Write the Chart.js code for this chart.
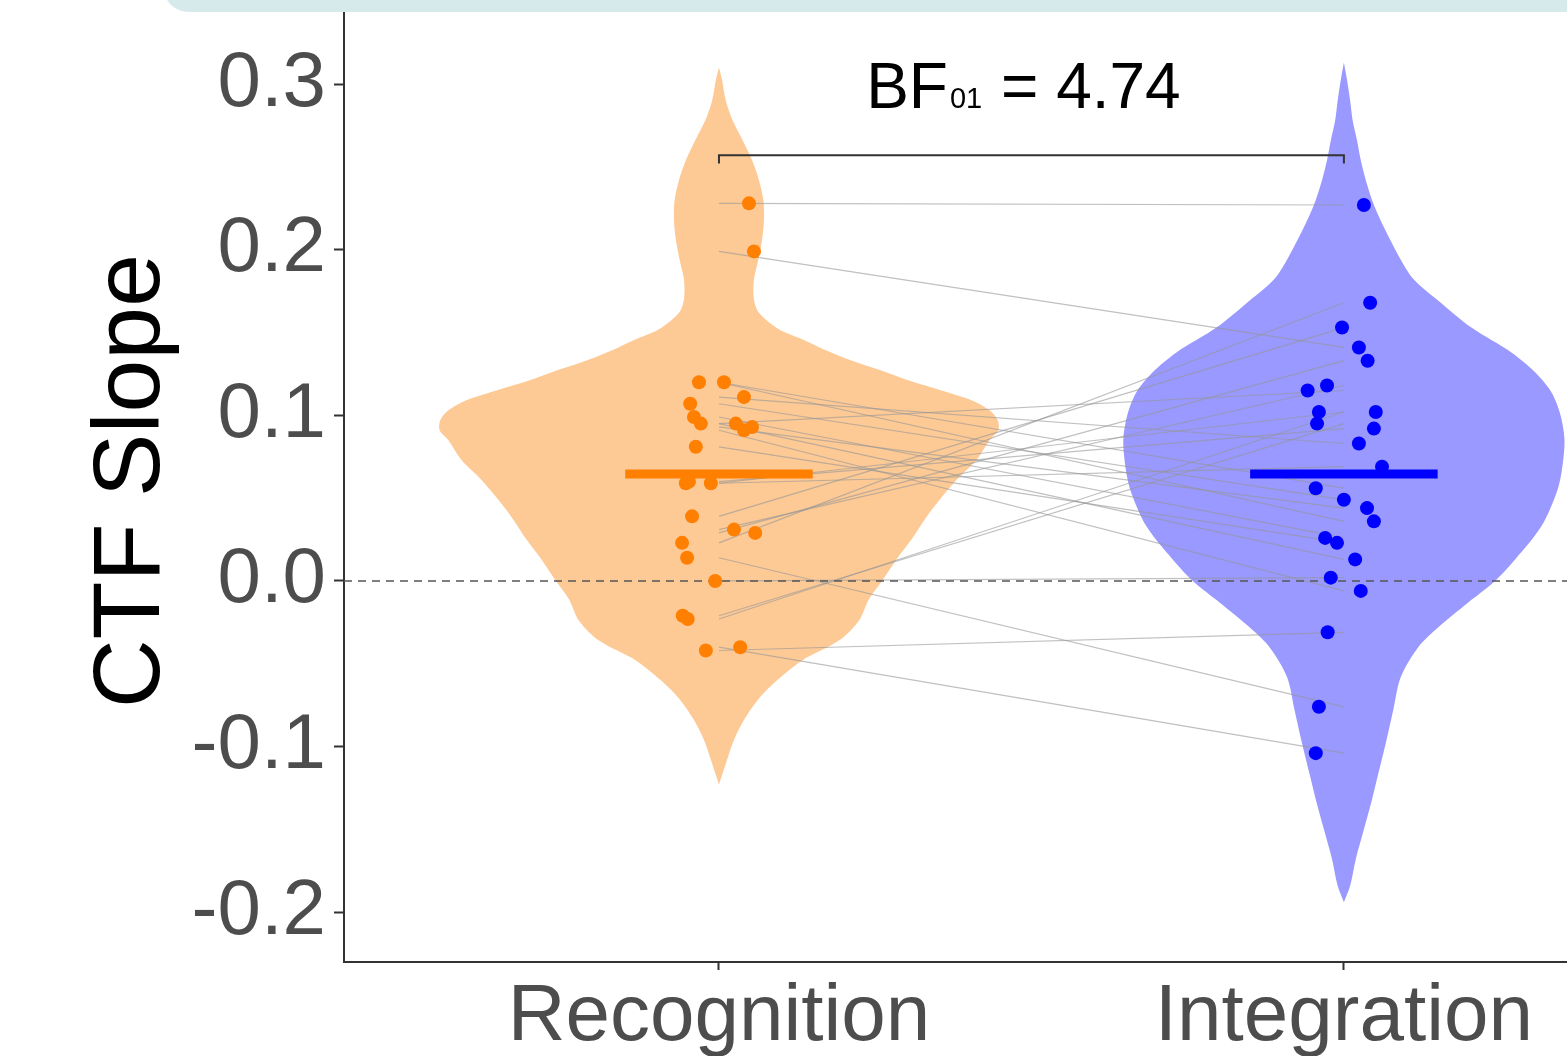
<!DOCTYPE html>
<html>
<head>
<meta charset="utf-8">
<script src="https://cdn.jsdelivr.net/npm/chart.js@4/dist/chart.umd.min.js"></script>
<style>
  html, body { margin: 0; padding: 0; background: #fff; }
  #wrap { width: 1567px; height: 1056px; overflow: hidden; }
</style>
</head>
<body>
<div id="wrap"><canvas id="violin-chart" width="1567" height="1056"></canvas></div>
<script>
const categories = ['Recognition', 'Integration'];
const yTicks = [-0.2, -0.1, 0.0, 0.1, 0.2, 0.3];
const xRange = [0.4, 2.357];
const yRange = [-0.2301, 0.3508];

// paired CTF slopes (same participant at the same index)
const recognition = [0.228, 0.199, 0.120, 0.120, 0.111, 0.107, 0.099, 0.095, 0.095, 0.093, 0.091, 0.081, 0.060,
  0.059, 0.059, 0.039, 0.031, 0.029, 0.023, 0.014, 0.000, -0.021, -0.023, -0.040, -0.042];
const integration = [0.227, 0.141, 0.056, 0.036, 0.083, 0.049, 0.026, 0.013, 0.115, 0.044, -0.006, 0.023, 0.092,
  0.069, 0.102, 0.153, 0.118, 0.133, 0.168, -0.076, 0.002, 0.095, 0.102, -0.104, -0.031];

// horizontal jitter of the dots (category units)
const recJitter = [0.048, 0.056, -0.032, 0.008, 0.040, -0.046, -0.040, -0.029, 0.027, 0.053, 0.040, -0.037, -0.048,
  -0.053, -0.013, -0.043, 0.024, 0.058, -0.059, -0.051, -0.006, -0.058, -0.050, 0.034, -0.021];
const intJitter = [0.032, 0.024, -0.045, 0.048, 0.024, 0, -0.030, 0.018, -0.058, 0.037, 0.027, -0.011, 0.048,
  0.061, 0.051, -0.003, -0.027, 0.038, 0.042, -0.040, -0.021, -0.043, -0.040, -0.045, -0.026];

const means = [0.0646, 0.0646];

// violin outlines: slope level and half width (category units)
const recViolinY = [0.310, 0.3025, 0.290, 0.278, 0.266, 0.254, 0.242, 0.230, 0.218, 0.206, 0.194, 0.182, 0.170,
  0.162, 0.152, 0.146, 0.139, 0.133, 0.127, 0.121, 0.115, 0.109, 0.103, 0.097, 0.091, 0.085, 0.073, 0.061, 0.049,
  0.037, 0.025, 0.013, 0.000, -0.011, -0.024, -0.036, -0.048, -0.060, -0.071, -0.084, -0.096, -0.108, -0.123];
const recViolinW = [0, 0.005, 0.011, 0.022, 0.038, 0.053, 0.064, 0.071, 0.072, 0.069, 0.063, 0.056, 0.056,
  0.064, 0.096, 0.133, 0.173, 0.213, 0.260, 0.304, 0.356, 0.405, 0.433, 0.446, 0.447, 0.433, 0.412, 0.380, 0.353,
  0.329, 0.308, 0.284, 0.261, 0.240, 0.224, 0.192, 0.133, 0.093, 0.064, 0.040, 0.024, 0.013, 0];

const intViolinY = [0.313, 0.3025, 0.290, 0.278, 0.266, 0.254, 0.242, 0.227, 0.212, 0.194, 0.182, 0.168, 0.153,
  0.138, 0.126, 0.114, 0.101, 0.085, 0.065, 0.053, 0.033, 0.013, -0.001, -0.013, -0.028, -0.040, -0.058, -0.078,
  -0.098, -0.118, -0.132, -0.150, -0.168, -0.184, -0.194];
const intViolinW = [0, 0.005, 0.010, 0.014, 0.021, 0.027, 0.035, 0.048, 0.066, 0.091, 0.112, 0.155, 0.204,
  0.268, 0.306, 0.332, 0.346, 0.353, 0.348, 0.340, 0.316, 0.274, 0.239, 0.199, 0.151, 0.119, 0.091, 0.079,
  0.067, 0.054, 0.045, 0.032, 0.019, 0.010, 0];

const bracketY = 0.257;
const bracketTip = 0.252;
const bfLabelY = 0.2856;

const FONT = "'Liberation Sans', Arial, sans-serif";

function violinShape(center, ys, ws) {
  const right = ys.map((y, i) => ({x: center + ws[i], y: y}));
  const left = ys.map((y, i) => ({x: center - ws[i], y: y})).reverse();
  return right.concat(left);
}

const pairLines = recognition.map((r, i) => ({
  type: 'line',
  data: [{x: 1, y: r}, {x: 2, y: integration[i]}],
  borderColor: 'rgba(150, 150, 150, 0.6)',
  borderWidth: 1.2,
  pointRadius: 0,
  order: 4
}));

const datasets = [
  {
    type: 'scatter',
    data: recognition.map((v, i) => ({x: 1 + recJitter[i], y: v})),
    backgroundColor: '#ff7f00',
    borderWidth: 0,
    pointRadius: 7,
    order: 0
  },
  {
    type: 'scatter',
    data: integration.map((v, i) => ({x: 2 + intJitter[i], y: v})),
    backgroundColor: '#0000ff',
    borderWidth: 0,
    pointRadius: 7,
    order: 0
  },
  {
    type: 'line',
    data: [{x: 0.85, y: means[0]}, {x: 1.15, y: means[0]}],
    borderColor: '#ff7f00',
    borderWidth: 9,
    pointRadius: 0,
    order: 1
  },
  {
    type: 'line',
    data: [{x: 1.85, y: means[1]}, {x: 2.15, y: means[1]}],
    borderColor: '#0000ff',
    borderWidth: 9,
    pointRadius: 0,
    order: 1
  },
  {
    type: 'line',
    data: [{x: xRange[0], y: 0}, {x: xRange[1], y: 0}],
    borderColor: '#555',
    borderWidth: 1.5,
    borderDash: [8, 6],
    pointRadius: 0,
    order: 2
  },
  {
    type: 'line',
    data: [{x: 1, y: bracketTip}, {x: 1, y: bracketY}, {x: 2, y: bracketY}, {x: 2, y: bracketTip}],
    borderColor: '#333',
    borderWidth: 2,
    pointRadius: 0,
    order: 2
  },
  ...pairLines,
  {
    type: 'line',
    data: violinShape(1, recViolinY, recViolinW),
    borderWidth: 0,
    backgroundColor: '#fdca96',
    fill: 'shape',
    tension: 0.3,
    pointRadius: 0,
    order: 6
  },
  {
    type: 'line',
    data: violinShape(2, intViolinY, intViolinW),
    borderWidth: 0,
    backgroundColor: '#9999ff',
    fill: 'shape',
    tension: 0.3,
    pointRadius: 0,
    order: 6
  }
];

const decorations = {
  id: 'decorations',
  afterDraw(chart) {
    const ctx = chart.ctx;
    const x = chart.scales.x;
    const y = chart.scales.y;
    ctx.save();

    // screenshot banner across the top edge
    ctx.fillStyle = '#d6e9eb';
    ctx.beginPath();
    ctx.roundRect(163, -40, 1500, 52, 26);
    ctx.fill();

    const baseY = y.getPixelForValue(bfLabelY);
    ctx.fillStyle = '#000';
    ctx.textBaseline = 'alphabetic';
    const big = '64px ' + FONT;
    const small = '29px ' + FONT;
    ctx.font = big;
    const w1 = ctx.measureText('BF').width;
    const w3 = ctx.measureText(' = 4.74').width;
    ctx.font = small;
    const w2 = ctx.measureText('01').width + 3;
    let start = x.getPixelForValue(1.5) - (w1 + w2 + w3) / 2 - 8;
    ctx.font = big;
    ctx.fillText('BF', start, baseY);
    ctx.font = small;
    ctx.fillText('01', start + w1 + 2, baseY);
    ctx.font = big;
    ctx.fillText(' = 4.74', start + w1 + w2, baseY);
    ctx.restore();
  }
};

new Chart(document.getElementById('violin-chart'), {
  data: {datasets: datasets},
  plugins: [decorations],
  options: {
    responsive: false,
    animation: false,
    layout: {padding: 0, autoPadding: false},
    elements: {line: {tension: 0}},
    scales: {
      x: {
        type: 'linear',
        min: xRange[0],
        max: xRange[1],
        afterBuildTicks: (scale) => {
          scale.ticks = categories.map((c, i) => ({value: i + 1}));
        },
        afterFit: (scale) => {
          scale.height = 94;
          scale.paddingLeft = 0;
          scale.paddingRight = 0;
        },
        ticks: {
          callback: (value) => categories[value - 1],
          color: '#4d4d4d',
          font: {family: FONT, size: 80},
          padding: 0,
          maxRotation: 0,
          autoSkip: false
        },
        grid: {drawOnChartArea: false, tickLength: 8, color: '#333', tickWidth: 2},
        border: {color: '#333', width: 2}
      },
      y: {
        type: 'linear',
        min: yRange[0],
        max: yRange[1],
        afterBuildTicks: (scale) => {
          scale.ticks = yTicks.map((v) => ({value: v}));
        },
        afterFit: (scale) => {
          scale.width = 344;
          scale.paddingTop = 0;
          scale.paddingBottom = 0;
        },
        ticks: {
          callback: (value) => value.toFixed(1),
          color: '#4d4d4d',
          font: {family: FONT, size: 78},
          padding: 8
        },
        grid: {drawOnChartArea: false, tickLength: 10, color: '#333', tickWidth: 2},
        border: {color: '#333', width: 2},
        title: {
          display: true,
          text: 'CTF Slope',
          color: '#000',
          font: {family: FONT, size: 95},
          padding: {top: 76, bottom: 0}
        }
      }
    },
    plugins: {
      legend: {display: false},
      tooltip: {enabled: false}
    }
  }
});
</script>
</body>
</html>
